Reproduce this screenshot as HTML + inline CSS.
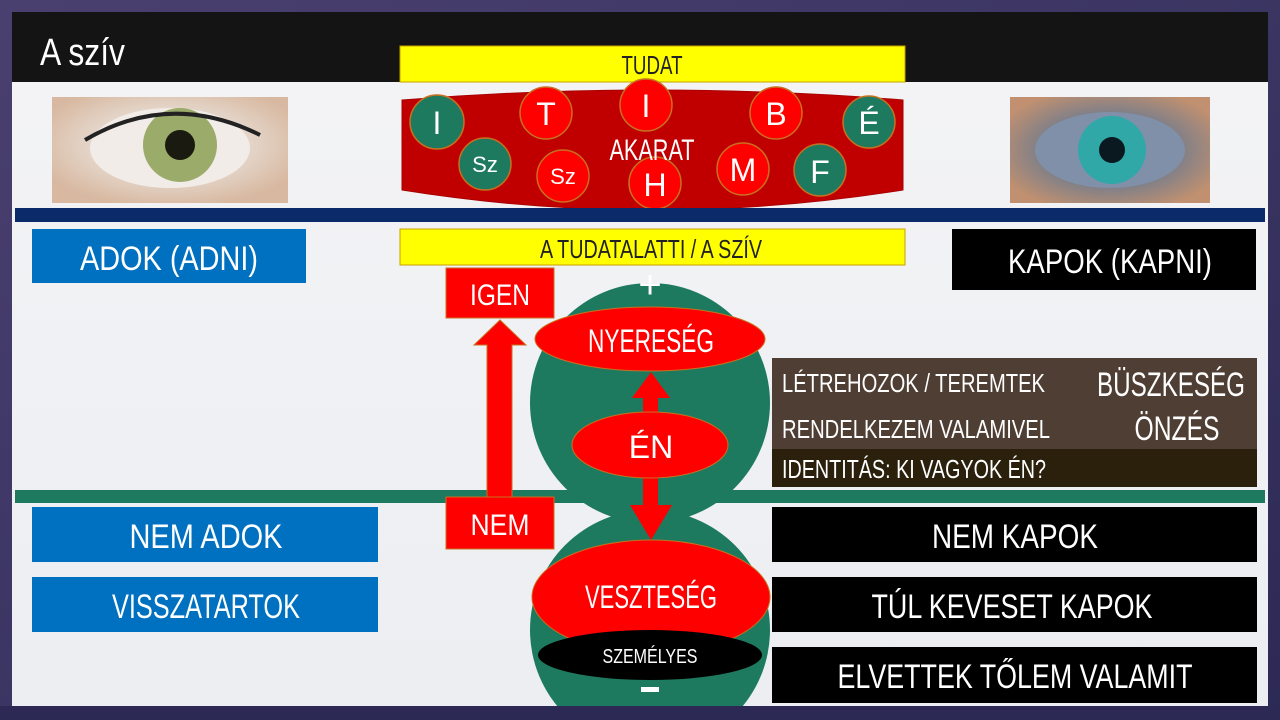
<!DOCTYPE html>
<html><head><meta charset="utf-8"><style>
html,body{margin:0;padding:0;width:1280px;height:720px;overflow:hidden;background:#3a3560}
svg{display:block}
text{font-family:"Liberation Sans Narrow","Liberation Sans",sans-serif;}
</style></head><body>
<svg width="1280" height="720" viewBox="0 0 1280 720" xmlns="http://www.w3.org/2000/svg">
<defs>
<linearGradient id="bg" x1="0" y1="0" x2="1" y2="1"><stop offset="0" stop-color="#4a4070"/><stop offset="1" stop-color="#2c2a55"/></linearGradient>
<linearGradient id="pan" x1="0" y1="0" x2="0" y2="1"><stop offset="0" stop-color="#f4f4f6"/><stop offset="1" stop-color="#eceef2"/></linearGradient>
<radialGradient id="eye1" cx="0.5" cy="0.45" r="0.6"><stop offset="0" stop-color="#7a8a50"/><stop offset="0.25" stop-color="#a9b878"/><stop offset="0.4" stop-color="#e8e0d8"/><stop offset="1" stop-color="#d8b8a0"/></radialGradient>
<radialGradient id="eye2" cx="0.5" cy="0.5" r="0.6"><stop offset="0" stop-color="#103040"/><stop offset="0.2" stop-color="#2aa0a0"/><stop offset="0.45" stop-color="#6a7a90"/><stop offset="1" stop-color="#c09070"/></radialGradient>
</defs>
<rect width="1280" height="720" fill="url(#bg)"/>
<rect x="12" y="12" width="1256" height="694" fill="url(#pan)"/>
<rect x="12" y="12" width="1256" height="70" fill="#141414"/>
<text x="40" y="65" font-size="38" fill="#fff" textLength="85" lengthAdjust="spacingAndGlyphs">A szív</text>

<!-- eyes -->
<rect x="52" y="97" width="236" height="106" fill="url(#eye1)"/>
<ellipse cx="170" cy="148" rx="80" ry="40" fill="#f2ece8"/>
<circle cx="180" cy="145" r="37" fill="#9aab6a"/><circle cx="180" cy="145" r="15" fill="#1a1a10"/>
<path d="M85 140 Q170 90 260 135" stroke="#222" stroke-width="4" fill="none"/>
<rect x="1010" y="97" width="200" height="106" fill="url(#eye2)"/>
<ellipse cx="1110" cy="150" rx="75" ry="38" fill="#8090a8"/>
<circle cx="1112" cy="150" r="34" fill="#30a8a8"/><circle cx="1112" cy="150" r="13" fill="#0a1820"/>

<!-- TUDAT -->
<rect x="400" y="46" width="505" height="36" fill="#ffff00" stroke="#c8a000"/>
<text x="652" y="74" font-size="26" fill="#222" text-anchor="middle" textLength="61" lengthAdjust="spacingAndGlyphs">TUDAT</text>

<!-- AKARAT shape -->
<path d="M402 100 Q652 80 903 100 L903 190 Q652 230 402 190 Z" fill="#c00000" stroke="#a80000"/>
<g stroke="#c87020" stroke-width="1.5">
<circle cx="437" cy="122" r="27" fill="#1e7a5e"/>
<circle cx="485" cy="164" r="26" fill="#1e7a5e"/>
<circle cx="546" cy="113" r="26" fill="#ff0000"/>
<circle cx="563" cy="176" r="26" fill="#ff0000"/>
<circle cx="646" cy="105" r="26" fill="#ff0000"/>
<circle cx="655" cy="183" r="26" fill="#ff0000"/>
<circle cx="776" cy="113" r="26" fill="#ff0000"/>
<circle cx="743" cy="169" r="26" fill="#ff0000"/>
<circle cx="869" cy="122" r="26" fill="#1e7a5e"/>
<circle cx="820" cy="170" r="26" fill="#1e7a5e"/>
</g>
<g fill="#fff" text-anchor="middle" font-size="32">
<text x="437" y="134">I</text>
<text x="485" y="172" font-size="22">Sz</text>
<text x="546" y="125">T</text>
<text x="563" y="184" font-size="22">Sz</text>
<text x="646" y="117">I</text>
<text x="655" y="196">H</text>
<text x="776" y="125">B</text>
<text x="743" y="181">M</text>
<text x="869" y="134">É</text>
<text x="820" y="183">F</text>
<text x="652" y="160" font-size="30" textLength="85" lengthAdjust="spacingAndGlyphs">AKARAT</text>
</g>

<!-- blue line -->
<rect x="15" y="208" width="1250" height="14" fill="#0b2a6a"/>

<rect x="400" y="229" width="505" height="36" fill="#ffff00" stroke="#c8a000"/>
<text x="651" y="258" font-size="26" fill="#222" text-anchor="middle" textLength="222" lengthAdjust="spacingAndGlyphs">A TUDATALATTI / A SZÍV</text>

<rect x="32" y="229" width="274" height="54" fill="#0070c0"/>
<text x="169" y="270" font-size="34" fill="#fff" text-anchor="middle" textLength="178" lengthAdjust="spacingAndGlyphs">ADOK (ADNI)</text>
<rect x="952" y="229" width="304" height="61" fill="#000"/>
<text x="1110" y="273" font-size="34" fill="#fff" text-anchor="middle" textLength="204" lengthAdjust="spacingAndGlyphs">KAPOK (KAPNI)</text>

<!-- upper circle -->
<circle cx="650" cy="403" r="120" fill="#1e7a5e"/>
<text x="650" y="298" font-size="40" fill="#fff" text-anchor="middle">+</text>

<!-- brown box -->
<rect x="772" y="358" width="485" height="91" fill="#4f3e33"/>
<rect x="772" y="449" width="485" height="38" fill="#2a200c"/>
<g fill="#fff" font-size="26">
<text x="782" y="392" textLength="263" lengthAdjust="spacingAndGlyphs">LÉTREHOZOK / TEREMTEK</text>
<text x="782" y="438" textLength="268" lengthAdjust="spacingAndGlyphs">RENDELKEZEM VALAMIVEL</text>
<text x="782" y="478" textLength="264" lengthAdjust="spacingAndGlyphs">IDENTITÁS: KI VAGYOK ÉN?</text>
<text x="1171" y="396" font-size="34" text-anchor="middle" textLength="148" lengthAdjust="spacingAndGlyphs">BÜSZKESÉG</text>
<text x="1177" y="440" font-size="34" text-anchor="middle" textLength="85" lengthAdjust="spacingAndGlyphs">ÖNZÉS</text>
</g>

<!-- green line -->
<rect x="15" y="490" width="1250" height="13" fill="#1e7a5e"/>

<!-- lower circle -->
<circle cx="650" cy="630" r="120" fill="#1e7a5e"/>
<rect x="0" y="706" width="1280" height="14" fill="#2c2a55"/>

<!-- arrows -->
<polygon points="487,497 512,497 512,345 526,345 500,320 474,345 487,345" fill="#ff0000" stroke="#c87020"/>
<polygon points="643,415 658,415 658,398 670,398 651,372 632,398 643,398" fill="#ff0000"/>
<polygon points="643,470 658,470 658,505 672,505 651,540 630,505 643,505" fill="#ff0000"/>

<ellipse cx="650" cy="339" rx="115" ry="32" fill="#ff0000" stroke="#c87020"/>
<text x="651" y="352" font-size="32" fill="#fff" text-anchor="middle" textLength="126" lengthAdjust="spacingAndGlyphs">NYERESÉG</text>
<ellipse cx="650" cy="445" rx="78" ry="33" fill="#ff0000" stroke="#c87020"/>
<text x="651" y="458" font-size="32" fill="#fff" text-anchor="middle">ÉN</text>

<rect x="446" y="268" width="108" height="50" fill="#ff0000" stroke="#c87020"/>
<text x="500" y="305" font-size="30" fill="#fff" text-anchor="middle" textLength="60" lengthAdjust="spacingAndGlyphs">IGEN</text>
<rect x="446" y="497" width="108" height="52" fill="#ff0000" stroke="#c87020"/>
<text x="500" y="535" font-size="30" fill="#fff" text-anchor="middle" textLength="59" lengthAdjust="spacingAndGlyphs">NEM</text>

<ellipse cx="651" cy="597" rx="119" ry="57" fill="#ff0000" stroke="#c87020"/>
<text x="651" y="608" font-size="32" fill="#fff" text-anchor="middle" textLength="132" lengthAdjust="spacingAndGlyphs">VESZTESÉG</text>
<ellipse cx="650" cy="655" rx="112" ry="25" fill="#000"/>
<text x="650" y="663" font-size="20" fill="#fff" text-anchor="middle" textLength="95" lengthAdjust="spacingAndGlyphs">SZEMÉLYES</text>
<rect x="641" y="687" width="18" height="5" fill="#fff"/>

<!-- bottom boxes -->
<rect x="32" y="507" width="346" height="55" fill="#0070c0"/>
<text x="206" y="548" font-size="34" fill="#fff" text-anchor="middle" textLength="153" lengthAdjust="spacingAndGlyphs">NEM ADOK</text>
<rect x="32" y="577" width="346" height="55" fill="#0070c0"/>
<text x="206" y="618" font-size="34" fill="#fff" text-anchor="middle" textLength="188" lengthAdjust="spacingAndGlyphs">VISSZATARTOK</text>
<rect x="772" y="507" width="485" height="55" fill="#000"/>
<text x="1015" y="548" font-size="34" fill="#fff" text-anchor="middle" textLength="166" lengthAdjust="spacingAndGlyphs">NEM KAPOK</text>
<rect x="772" y="577" width="485" height="55" fill="#000"/>
<text x="1012" y="618" font-size="34" fill="#fff" text-anchor="middle" textLength="281" lengthAdjust="spacingAndGlyphs">TÚL KEVESET KAPOK</text>
<rect x="772" y="647" width="485" height="56" fill="#000"/>
<text x="1015" y="688" font-size="34" fill="#fff" text-anchor="middle" textLength="355" lengthAdjust="spacingAndGlyphs">ELVETTEK TŐLEM VALAMIT</text>
</svg>
</body></html>
